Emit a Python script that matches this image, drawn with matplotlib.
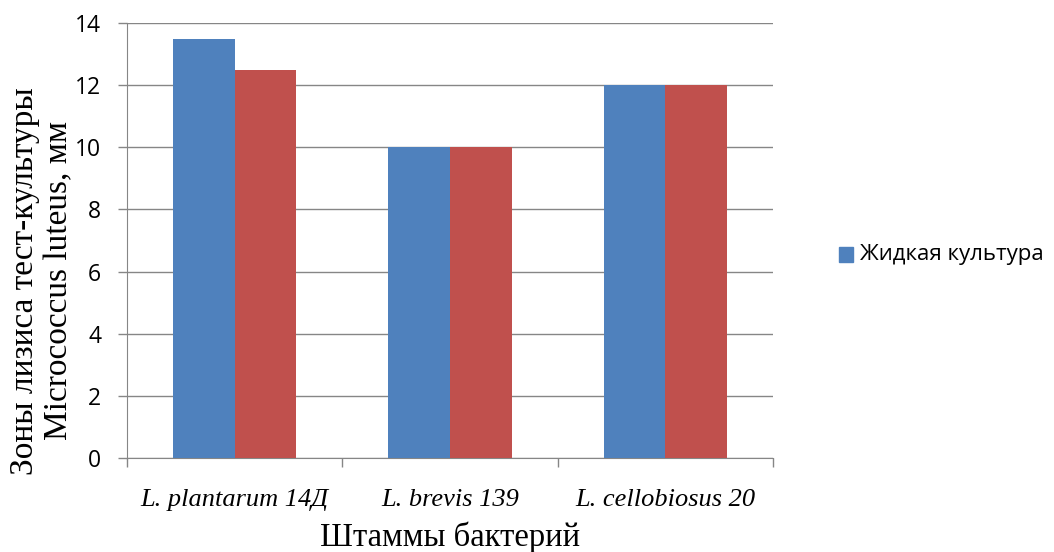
import matplotlib

matplotlib.use("Agg")
import matplotlib.pyplot as plt
import numpy as np
from matplotlib.patches import Rectangle

strains = ["L. plantarum 14Д", "L. brevis 139", "L. cellobiosus 20"]
liquid_culture = [13.5, 10, 12]
second_series = [12.5, 10, 12]
legend_label = "Жидкая культура"
y_ticks = [0, 2, 4, 6, 8, 10, 12, 14]

BLUE = "#4F81BD"
RED = "#C0504D"
GRID = "#868686"

W, H = 1054, 552
fig = plt.figure(figsize=(W / 100, H / 100), dpi=100)
ax = fig.add_axes([127 / W, 1 - 458 / H, (773 - 127) / W, (458 - 23) / H])

x = np.arange(len(strains))
w = 0.286
ax.bar(x - w / 2, liquid_culture, width=w, color=BLUE, zorder=3)
ax.bar(x + w / 2, second_series, width=w, color=RED, zorder=3)

ax.set_xlim(-0.5, len(strains) - 0.5)
ax.set_ylim(0, 14)
ax.set_yticks(y_ticks)
ax.set_yticklabels([str(t) for t in y_ticks], fontsize=16.5, fontfamily="Open Sans")
ax.yaxis.grid(True, color=GRID, lw=1, zorder=0)
ax.tick_params(axis="y", length=6.5, color=GRID, width=1, pad=12)

# category boundaries carry the x ticks; labels sit at bar-group centres
ax.set_xticks(np.arange(len(strains) + 1) - 0.5)
ax.set_xticklabels([])
ax.set_xticks(x, minor=True)
ax.set_xticklabels(strains, minor=True, fontsize=19, fontstyle="italic",
                   fontfamily="Liberation Serif")
ax.tick_params(axis="x", which="major", length=6.5, color=GRID, width=1)
ax.tick_params(axis="x", which="minor", length=0, pad=22)

for side in ("top", "right"):
    ax.spines[side].set_visible(False)
for side in ("left", "bottom"):
    ax.spines[side].set_color(GRID)

ax.set_xlabel("Штаммы бактерий", fontsize=23.5, fontfamily="Liberation Serif", labelpad=8)
fig.text(42 / W, 1 - 281 / H, "Зоны лизиса тест-культуры\nMicrococcus luteus, мм",
         fontsize=24, fontfamily="Liberation Serif", rotation=90,
         ha="center", va="center", ma="center", linespacing=1.15)

# legend entry for the first series
fig.patches.append(Rectangle((839 / W, 1 - 262 / H), 14 / W, 15 / H,
                             transform=fig.transFigure, color=BLUE))
fig.text(860 / W, 1 - 255 / H, legend_label, fontsize=16, fontfamily="Open Sans",
         va="center", ha="left")

fig.savefig("out.png", dpi=100)
